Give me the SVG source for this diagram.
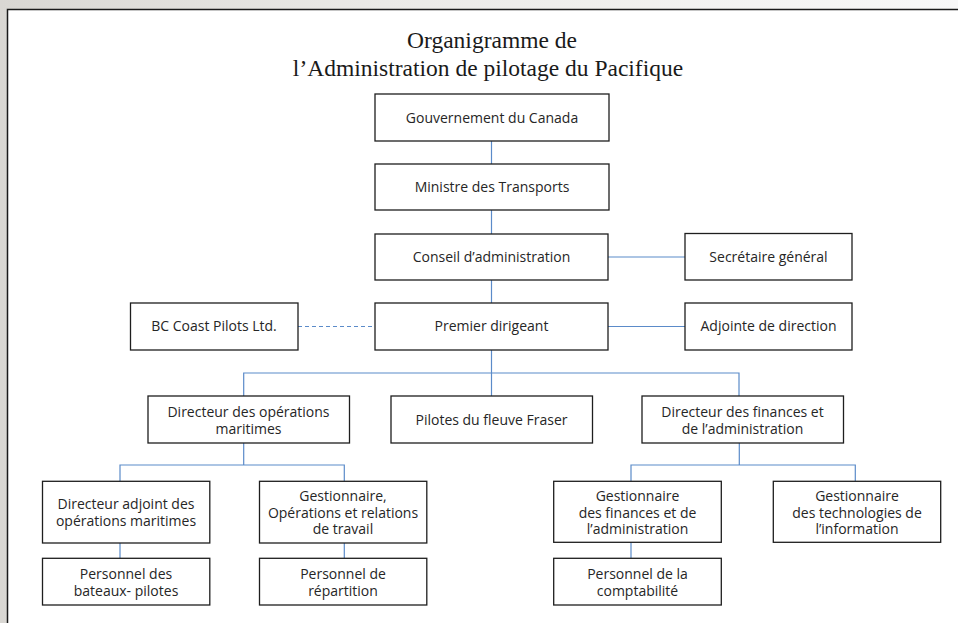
<svg xmlns="http://www.w3.org/2000/svg" width="958" height="623" viewBox="0 0 958 623">
<defs>
<linearGradient id="bg" x1="0" y1="0" x2="1" y2="0">
<stop offset="0" stop-color="#d9d7d3"/>
<stop offset="0.4" stop-color="#ebeae7"/>
<stop offset="1" stop-color="#f8f8f8"/>
</linearGradient>
<style>
.box{fill:#ffffff;stroke:#1e1e1e;stroke-width:1.3}
.t{font-family:"Open Sans","Liberation Sans",sans-serif;font-size:14px;fill:#262626;text-anchor:middle}
.title{font-family:"Liberation Serif","DejaVu Serif",serif;font-size:23.5px;fill:#1a1a1a;text-anchor:middle}
.c{fill:none;stroke:#5b8bc9;stroke-width:1.2}
.d{stroke-dasharray:4 3}
</style>
</defs>
<rect x="0" y="0" width="958" height="623" fill="url(#bg)"/>
<rect x="7.5" y="9.5" width="960" height="620" fill="#ffffff" stroke="#1a1a1a" stroke-width="1.5"/>
<g id="title">
<text class="title" x="492" y="48">Organigramme de</text>
<text class="title" x="488" y="75.5">l’Administration de pilotage du Pacifique</text>
</g>
<g id="connectors">
<path class="c" d="M491.5 141V164M491.5 210V234M491.5 280V303M491.5 350V396"/>
<path class="c" d="M608 257H685M608 326.5H685"/>
<path class="c d" d="M298 326.5H375"/>
<path class="c" d="M243.7 396V373H739V396"/>
<path class="c" d="M243.7 443V465M120 481V465H344.3V481"/>
<path class="c" d="M120 543V558M344.3 543V558"/>
<path class="c" d="M739.3 443V465M631 481V465H855.3V481"/>
<path class="c" d="M631 542V558"/>
</g>
<g id="gouvernement">
<rect class="box" x="375" y="94" width="234" height="47"/>
<text class="t" x="492" y="122.5">Gouvernement du Canada</text>
</g>
<g id="ministre">
<rect class="box" x="375" y="164" width="234" height="46"/>
<text class="t" x="492" y="192">Ministre des Transports</text>
</g>
<g id="conseil">
<rect class="box" x="375" y="234" width="233" height="46"/>
<text class="t" x="491.5" y="262">Conseil d’administration</text>
</g>
<g id="secretaire">
<rect class="box" x="685" y="233.5" width="167" height="46.5"/>
<text class="t" x="768.5" y="262">Secrétaire général</text>
</g>
<g id="premier">
<rect class="box" x="375" y="303" width="233" height="47"/>
<text class="t" x="491.5" y="331">Premier dirigeant</text>
</g>
<g id="bccoast">
<rect class="box" x="130.5" y="303" width="167.5" height="47"/>
<text class="t" x="214" y="331">BC Coast Pilots Ltd.</text>
</g>
<g id="adjointe">
<rect class="box" x="685" y="303" width="167" height="47"/>
<text class="t" x="768.5" y="331">Adjointe de direction</text>
</g>
<g id="dir-operations">
<rect class="box" x="148" y="396" width="201.5" height="47"/>
<text class="t" x="248.5" y="416.5">Directeur des opérations</text>
<text class="t" x="248.5" y="434">maritimes</text>
</g>
<g id="fraser">
<rect class="box" x="391" y="396" width="201.5" height="47"/>
<text class="t" x="491.5" y="424.5">Pilotes du fleuve Fraser</text>
</g>
<g id="dir-finances">
<rect class="box" x="642" y="396" width="201.5" height="47"/>
<text class="t" x="742.5" y="416.5">Directeur des finances et</text>
<text class="t" x="742.5" y="434">de l’administration</text>
</g>
<g id="dir-adjoint">
<rect class="box" x="42.5" y="481.3" width="167.3" height="61.7"/>
<text class="t" x="126" y="509">Directeur adjoint des</text>
<text class="t" x="126" y="526">opérations maritimes</text>
</g>
<g id="gest-operations">
<rect class="box" x="259.5" y="481.3" width="167.3" height="61.7"/>
<text class="t" x="343" y="501">Gestionnaire,</text>
<text class="t" x="343" y="517.5">Opérations et relations</text>
<text class="t" x="343" y="534">de travail</text>
</g>
<g id="pers-bateaux">
<rect class="box" x="42.5" y="558.3" width="167.3" height="46.7"/>
<text class="t" x="126" y="579">Personnel des</text>
<text class="t" x="126" y="595.5">bateaux- pilotes</text>
</g>
<g id="pers-repartition">
<rect class="box" x="259.5" y="558.3" width="167.3" height="46.7"/>
<text class="t" x="343" y="579">Personnel de</text>
<text class="t" x="343" y="595.5">répartition</text>
</g>
<g id="gest-finances">
<rect class="box" x="553.7" y="481.3" width="167.6" height="61"/>
<text class="t" x="637.5" y="501">Gestionnaire</text>
<text class="t" x="637.5" y="517.5">des finances et de</text>
<text class="t" x="637.5" y="534">l’administration</text>
</g>
<g id="gest-ti">
<rect class="box" x="773.3" y="481.3" width="167.4" height="61"/>
<text class="t" x="857" y="501">Gestionnaire</text>
<text class="t" x="857" y="517.5">des technologies de</text>
<text class="t" x="857" y="534">l’information</text>
</g>
<g id="pers-comptabilite">
<rect class="box" x="553.7" y="558.3" width="167.6" height="46.7"/>
<text class="t" x="637.5" y="579">Personnel de la</text>
<text class="t" x="637.5" y="595.5">comptabilité</text>
</g>
</svg>
